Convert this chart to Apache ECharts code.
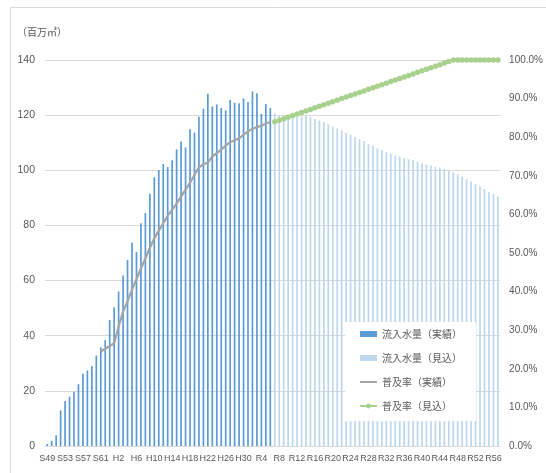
<!DOCTYPE html>
<html><head><meta charset="utf-8">
<script src="https://cdn.jsdelivr.net/npm/echarts/dist/echarts.min.js"></script>
<style>html,body{margin:0;padding:0;background:#fff}#c{width:546px;height:473px}</style>
</head><body><div id="c"></div>
<script>
// Fiscal years (S = Showa, H = Heisei, R = Reiwa)
const categories = [
  'S49','S50','S51','S52','S53','S54','S55','S56','S57','S58','S59','S60','S61','S62','S63',
  'H1','H2','H3','H4','H5','H6','H7','H8','H9','H10','H11','H12','H13','H14','H15',
  'H16','H17','H18','H19','H20','H21','H22','H23','H24','H25','H26','H27','H28','H29','H30',
  'R1','R2','R3','R4','R5','R6','R7','R8','R9','R10','R11','R12','R13','R14','R15',
  'R16','R17','R18','R19','R20','R21','R22','R23','R24','R25','R26','R27','R28','R29','R30',
  'R31','R32','R33','R34','R35','R36','R37','R38','R39','R40','R41','R42','R43','R44','R45',
  'R46','R47','R48','R49','R50','R51','R52','R53','R54','R55','R56','R57'
];
// 流入水量（実績） S49–R6, million m3
const inflowActual = [
  0.7, 1.9, 3.9, 12.9, 16.3, 17.9, 19.7, 22.4, 26.2, 27.4, 29.0, 32.8, 35.8, 38.4, 45.7,
  50.3, 56.0, 61.8, 67.5, 73.8, 70.4, 80.8, 84.5, 91.5, 97.5, 100.1, 102.3, 101.2, 103.6, 107.5,
  110.4, 108.3, 114.9, 113.7, 119.4, 122.3, 127.8, 123.1, 123.9, 122.6, 121.8, 125.5, 124.5, 124.3, 126.0,
  124.8, 128.6, 127.9, 120.4, 124.0, 122.6
];
// 流入水量（見込） R7–R57
const inflowForecast = [
  120.6, 119.8, 119.4, 119.2, 119.2, 119.3, 119.5, 119.9, 119.3, 118.6,
  118.0, 117.4, 116.7, 115.8, 115.2, 114.4, 113.6, 112.8, 112.1, 111.3,
  110.6, 109.5, 108.9, 108.0, 107.4, 106.5, 105.9, 105.3, 104.9, 104.4,
  104.0, 103.6, 103.1, 102.5, 102.2, 101.7, 101.3, 101.0, 100.5, 99.9,
  99.3, 98.5, 97.7, 96.8, 95.9, 94.9, 94.1, 93.2, 92.2, 91.4, 90.4
];
// 普及率（実績） S61–R6, %
const rateActualStart = 'S61';
const rateActual = [
  24.5, 25.2, 25.9, 26.6, 31.0, 34.8, 37.5, 40.5, 43.2, 46.0,
  48.6, 51.3, 53.8, 55.8, 57.7, 59.6, 61.2, 62.8, 64.6, 66.4,
  68.2, 70.2, 72.2, 73.0, 73.4, 75.0, 75.9, 76.8, 77.8, 78.7,
  79.2, 79.7, 80.6, 81.5, 82.2, 82.6, 83.0, 83.5, 84.0
];
// 普及率（見込） R7–R57, %
const forecastStart = 'R7';
const rateForecast = [
  84.0, 84.4, 84.8, 85.2, 85.6, 86.0, 86.4, 86.8, 87.2, 87.6,
  88.0, 88.4, 88.8, 89.2, 89.6, 90.0, 90.4, 90.8, 91.2, 91.6,
  92.0, 92.4, 92.8, 93.2, 93.6, 94.0, 94.4, 94.8, 95.2, 95.6,
  96.0, 96.4, 96.8, 97.2, 97.6, 98.0, 98.4, 98.8, 99.2, 99.6,
  100.0, 100.0, 100.0, 100.0, 100.0, 100.0, 100.0, 100.0, 100.0, 100.0, 100.0
];
const leftAxisMax = 140, leftAxisStep = 20;
const rightAxisMax = 100, rightAxisStep = 10;
const xLabelEvery = 4;
const seriesNames = ['流入水量（実績）','流入水量（見込）','普及率（実績）','普及率（見込）'];
const unitLabel = '（百万㎥）';

const fStart = categories.indexOf(forecastStart);
const rStart = categories.indexOf(rateActualStart);
const pad = (arr, start) => categories.map((c, i) => (i >= start && i < start + arr.length) ? arr[i - start] : '-');

const numFont = "'Liberation Sans',sans-serif";
const grey = '#595959';

const chart = echarts.init(document.getElementById('c'), null, {renderer: 'canvas'});
chart.setOption({
  animation: false,
  backgroundColor: '#fff',
  grid: {left: 45, right: 44, top: 60, bottom: 27, containLabel: false},
  graphic: [
    {type: 'rect', z: -10, shape: {x: 10.5, y: 7.5, width: 600, height: 600},
     style: {fill: 'none', stroke: '#D9D9D9', lineWidth: 1}},
    {type: 'text', left: 17, top: 27,
     style: {text: unitLabel, fill: grey, fontSize: 10, fontFamily: 'Noto Sans CJK JP'}}
  ],
  legend: {
    orient: 'vertical', left: 345, top: 322,
    backgroundColor: '#fff', padding: [5, 14, 8, 14], itemGap: 10,
    itemWidth: 17, itemHeight: 6,
    textStyle: {fontSize: 10, color: grey, fontFamily: 'Noto Sans CJK JP', lineHeight: 14},
    data: [
      {name: seriesNames[0], icon: 'rect'},
      {name: seriesNames[1], icon: 'rect'},
      {name: seriesNames[2], icon: 'path://M0,0h17v2h-17z'},
      {name: seriesNames[3]}
    ]
  },
  xAxis: {
    type: 'category', data: categories, boundaryGap: true,
    axisTick: {show: false},
    axisLine: {lineStyle: {color: '#D9D9D9'}},
    axisLabel: {interval: (i) => i % xLabelEvery === 0, color: grey, fontSize: 9, fontFamily: numFont,
      margin: 8, hideOverlap: false, showMinLabel: true},
    splitLine: {show: false}
  },
  yAxis: [
    {type: 'value', min: 0, max: leftAxisMax, interval: leftAxisStep,
     axisLine: {show: false}, axisTick: {show: false},
     axisLabel: {color: grey, fontSize: 10.5, fontFamily: numFont, margin: 10},
     splitLine: {lineStyle: {color: '#D9D9D9', width: 1}}},
    {type: 'value', min: 0, max: rightAxisMax, interval: rightAxisStep,
     axisLine: {show: false}, axisTick: {show: false},
     axisLabel: {color: grey, fontSize: 10, fontFamily: numFont, margin: 9,
       formatter: v => v.toFixed(1) + '%'},
     splitLine: {show: false}}
  ],
  series: [
    {name: seriesNames[0], type: 'bar', stack: 'inflow', barWidth: 1.7,
     itemStyle: {color: '#5B9BD5'}, data: pad(inflowActual, 0)},
    {name: seriesNames[1], type: 'bar', stack: 'inflow', barWidth: 1.7,
     itemStyle: {color: '#BDD7EE'}, data: pad(inflowForecast, fStart)},
    {name: seriesNames[2], type: 'line', yAxisIndex: 1, symbol: 'none',
     lineStyle: {color: '#A5A5A5', width: 2.25}, itemStyle: {color: '#A5A5A5'},
     data: pad(rateActual, rStart)},
    {name: seriesNames[3], type: 'line', yAxisIndex: 1, symbol: 'circle', symbolSize: 5.5,
     showAllSymbol: true,
     lineStyle: {color: '#A9D18E', width: 2}, itemStyle: {color: '#A9D18E'},
     data: pad(rateForecast, fStart)}
  ]
});
</script>
</body></html>
